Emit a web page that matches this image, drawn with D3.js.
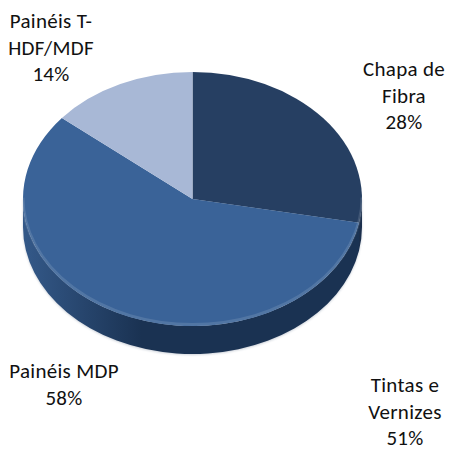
<!DOCTYPE html>
<html>
<head>
<meta charset="utf-8">
<script src="https://cdn.jsdelivr.net/npm/d3@7"></script>
<style>
  html, body { margin: 0; padding: 0; background: #ffffff; }
  svg { display: block; }
  text { font-family: Carlito, Lato, "Open Sans", sans-serif; fill: #111111; }
</style>
</head>
<body>
<svg id="chart" width="449" height="450"></svg>
<script>
// ---- data ----
const categories = ["Chapa de Fibra", "Painéis MDP", "Painéis T-HDF/MDF", "Tintas e Vernizes"];
const values = [28, 58, 14, 0];
const labelLines = [["Chapa de", "Fibra"], ["Painéis MDP"], ["Painéis T-", "HDF/MDF"], ["Tintas e", "Vernizes"]];
const labelPercents = ["28%", "58%", "14%", "51%"];

// ---- layout / styles ----
const topColors = ["#263f62", "#3a6398", "#a8b8d6", "#7f9cc6"];
const sideDark = ["#1b2f4c", "#1a3252", "#7d8fb0", "#5f7aa3"];
const cx = 192.5, cy = 199, rx = 169.5, ry = 127, depth = 28;
const labelAnchors = [
  { x: 404, y: 76 },
  { x: 64, y: 378 },
  { x: 51, y: 28 },
  { x: 405, y: 392 }
];
const lineHeight = 26.5;

const svg = d3.select("#chart");
const defs = svg.append("defs");

const pie = d3.pie().sort(null).value(d => d)(values);

const pt = (a, dy = 0) => [cx + rx * Math.sin(a), cy - ry * Math.cos(a) + dy];

// gradients for side walls
pie.forEach((d, i) => {
  const g = defs.append("linearGradient")
    .attr("id", "side" + i)
    .attr("gradientUnits", "userSpaceOnUse")
    .attr("x1", cx - rx).attr("y1", 0).attr("x2", cx + rx).attr("y2", 0);
  g.append("stop").attr("offset", "0%").attr("stop-color", d3.color(topColors[i]).darker(0.3));
  g.append("stop").attr("offset", "35%").attr("stop-color", sideDark[i]);
  g.append("stop").attr("offset", "100%").attr("stop-color", sideDark[i]);
});

const blur = defs.append("filter").attr("id", "soft").attr("x", "-10%").attr("y", "-10%").attr("width", "120%").attr("height", "130%");
blur.append("feGaussianBlur").attr("stdDeviation", 1.2);

// soft shadow under pie
svg.append("path")
  .attr("d", (() => {
    const a0 = Math.PI / 2, a1 = 3 * Math.PI / 2;
    const p0 = pt(a0, depth + 1), p1 = pt(a1, depth + 1);
    return `M${pt(a0)}L${p0}A${rx},${ry} 0 0 1 ${p1}L${pt(a1)}Z`;
  })())
  .attr("fill", "#8a96a8")
  .attr("opacity", 0.45)
  .attr("filter", "url(#soft)");

// side walls (front half only)
const lo = Math.PI / 2, hi = 3 * Math.PI / 2;
pie.forEach((d, i) => {
  const a0 = Math.max(d.startAngle, lo), a1 = Math.min(d.endAngle, hi);
  if (a1 <= a0) return;
  const large = (a1 - a0) > Math.PI ? 1 : 0;
  const p0 = pt(a0), p1 = pt(a1), q1 = pt(a1, depth), q0 = pt(a0, depth);
  svg.append("path")
    .attr("d", `M${p0}A${rx},${ry} 0 ${large} 1 ${p1}L${q1}A${rx},${ry} 0 ${large} 0 ${q0}Z`)
    .attr("fill", `url(#side${i})`);
});

// top faces
pie.forEach((d, i) => {
  if (d.endAngle - d.startAngle <= 0) return;
  const large = (d.endAngle - d.startAngle) > Math.PI ? 1 : 0;
  svg.append("path")
    .attr("d", `M${cx},${cy}L${pt(d.startAngle)}A${rx},${ry} 0 ${large} 1 ${pt(d.endAngle)}Z`)
    .attr("fill", topColors[i]);
});

// subtle bevel highlight on front rim
svg.append("path")
  .attr("d", `M${pt(lo, -1.5)}A${rx},${ry} 0 0 1 ${pt(hi, -1.5)}`)
  .attr("fill", "none")
  .attr("stroke", "#ffffff")
  .attr("stroke-opacity", 0.12)
  .attr("stroke-width", 3);

// labels
const labels = svg.append("g").attr("font-size", 21).attr("letter-spacing", 0.3).attr("text-anchor", "middle");
categories.forEach((c, i) => {
  const lines = labelLines[i].concat([labelPercents[i]]);
  const t = labels.append("text").attr("x", labelAnchors[i].x).attr("y", labelAnchors[i].y);
  lines.forEach((l, k) => {
    t.append("tspan").attr("x", labelAnchors[i].x).attr("dy", k === 0 ? 0 : lineHeight).text(l);
  });
});
</script>
</body>
</html>
